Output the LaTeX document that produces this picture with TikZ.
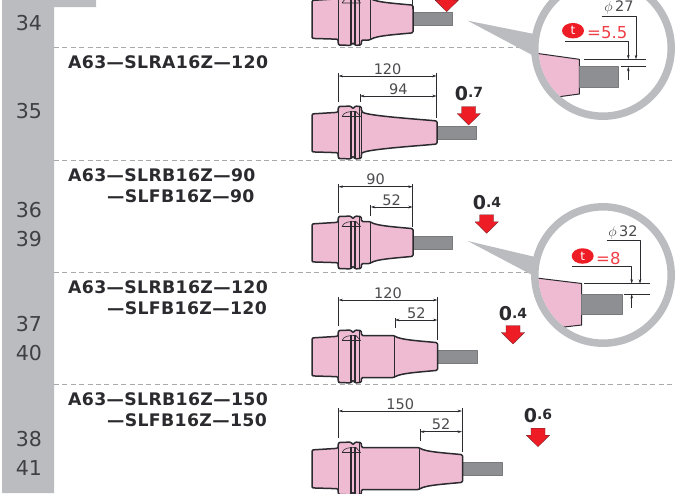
\documentclass[tikz,border=0pt]{standalone}
\usepackage{fontspec}
\setmainfont{DejaVu Sans}
\newfontfamily\labelfont{DejaVu Sans}
\newfontfamily\codefont[LetterSpace=2]{DejaVu Sans}
\usetikzlibrary{
  arrows.meta,
  positioning,
  calc,
  shapes.geometric
}
\definecolor{ink}{HTML}{2B2A2E}
\definecolor{sidebar}{HTML}{BBBCC0}
\definecolor{dashgray}{HTML}{A9AAAD}
\definecolor{holderpink}{HTML}{EFBBD3}
\definecolor{shank}{HTML}{8E8F92}
\definecolor{alertred}{HTML}{EE1C25}
\tikzset{
  >={Stealth[length=4.5pt,width=2.6pt]},
  every picture/.style={line join=round},
  rownum/.style={font=\labelfont\fontsize{20.5}{21}\selectfont, text=ink!90, inner sep=0pt},
  partcode/.style={font=\codefont\bfseries\fontsize{17.3}{18}\selectfont, text=ink, anchor=west, inner sep=0pt},
  dimtext/.style={font=\labelfont\fontsize{14.5}{15}\selectfont, text=ink!85, inner sep=0pt},
  runout/.style={font=\bfseries\fontsize{19}{19}\selectfont, text=ink, inner sep=0pt},
  redtext/.style={font=\labelfont\fontsize{16.5}{17}\selectfont, text=alertred!85!white, inner sep=0pt},
  rowline/.style={dash pattern=on 5pt off 3.4pt, draw=dashgray, line width=0.8pt},
  holderline/.style={draw=ink, line width=1.5pt},
  fineline/.style={draw=ink, line width=0.6pt},
  dimline/.style={<->, draw=ink, line width=0.55pt},
  extline/.style={draw=ink, line width=0.55pt},
  lens/.style={draw=sidebar, line width=7.5pt, fill=white},
  tmark/.style={ellipse, fill=alertred, text=white, minimum width=22pt, minimum height=15.5pt,
    inner sep=0pt, font=\labelfont\fontsize{12}{12}\selectfont}
}
% cy, shoulder x, taper end x, taper end half height
\newcommand{\holder}[4]{
  \draw[fill=shank, draw=shank!85!black, line width=0.5pt] (#3,#1-6.6) rectangle (#3+39.5,#1+6.6);
  \draw[holderline, fill=holderpink, rounded corners=1.2pt]
    (312,#1-18.6) -- (338,#1-20.2) -- (338.4,#1-26) -- (351,#1-26.4) -- (353,#1-23.5) -- (355,#1-26.4) -- (361.2,#1-26)
    -- (361.6,#1-21) -- (#2,#1-21)
    .. controls (#2+6,#1-16.5) and (#3-14,#1-#4-1.5) .. (#3,#1-#4)
    -- (#3,#1+#4)
    .. controls (#3-14,#1+#4+1.5) and (#2+6,#1+16.5) .. (#2,#1+21)
    -- (361.6,#1+21) -- (361.2,#1+26) -- (355,#1+26.4) -- (353,#1+23.5) -- (351,#1+26.4) -- (338.4,#1+26)
    -- (338,#1+20.2) -- (312,#1+19.4) -- cycle;
  \draw[fineline] (338.4,#1-26) -- (338.4,#1+26);
  \draw[fineline] (359.5,#1-26) -- (359.5,#1+26);
  \draw[fineline] (#2,#1-21) -- (#2,#1+21);
  \draw[draw=ink, line width=1.1pt] (351,#1-22) -- (351,#1+26);
  \draw[draw=ink, line width=1.1pt] (355,#1-22) -- (355,#1+26);
  \draw[fineline] (342,#1-16) .. controls (344,#1-21) and (350,#1-21) .. (356,#1-21) -- (360.5,#1-16) -- (342,#1-16);
}
% x, tip y
\newcommand{\redarrow}[2]{
  \fill[alertred, draw=ink!70!alertred, line width=0.3pt] (#1-7,#2-18.5) -- (#1+7,#2-18.5) -- (#1+7,#2-11.5) -- (#1+11.7,#2-11.5)
    -- (#1,#2) -- (#1-11.7,#2-11.5) -- (#1-7,#2-11.5) -- cycle;
}
\newcommand{\runoutval}[1]{0\raisebox{2.5pt}{\fontsize{14}{14}\selectfont.#1}}
\begin{document}
\begin{tikzpicture}[x=1pt, y=-1pt]
  \useasboundingbox (0,0) rectangle (683,493);
  \clip (0,0) rectangle (683,493);

  % side column
  \fill[sidebar] (2,0) -- (96,0) -- (96,7) -- (54,7) -- (54,493) -- (2,493) -- cycle;
  \node[rownum] (n34) at (29,23) {34};
  \node[rownum] (n35) at (29,111) {35};
  \node[rownum] (n36) at (29,210) {36};
  \node[rownum] (n39) at (29,239) {39};
  \node[rownum] (n37) at (29,324) {37};
  \node[rownum] (n40) at (29,353) {40};
  \node[rownum] (n38) at (29,439) {38};
  \node[rownum] (n41) at (29,468) {41};

  \foreach \y in {47.5,160,272,384}
    \draw[rowline] (54,\y) -- (675,\y);

  \node[partcode] (c35) at (68,62.5) {A63—SLRA16Z—120};
  \node[partcode] (c36) at (68,175) {A63—SLRB16Z—90};
  \node[partcode] (c39) at (107,196) {—SLFB16Z—90};
  \node[partcode] (c37) at (68,287) {A63—SLRB16Z—120};
  \node[partcode] (c40) at (107,308) {—SLFB16Z—120};
  \node[partcode] (c38) at (68,399) {A63—SLRB16Z—150};
  \node[partcode] (c41) at (107,420) {—SLFB16Z—150};

  \holder{19}{370}{413}{13.8}
  \holder{132.5}{361.6}{437}{11.5}
  \holder{242.5}{370}{413}{13.8}
  \holder{356.5}{394}{437.5}{13.8}
  \holder{468.5}{419}{462.5}{13.8}

  \redarrow{446.7}{11.7}
  \redarrow{468.7}{125}
  \redarrow{486.7}{233.3}
  \redarrow{513}{344}
  \redarrow{538}{446.7}

  \node[runout] (r35) at (469,93.5) {\runoutval{7}};
  \node[runout] (r36) at (487,203) {\runoutval{4}};
  \node[runout] (r37) at (513,314) {\runoutval{4}};
  \node[runout] (r38) at (538,415.5) {\runoutval{6}};

  % dimensions
  \draw[extline] (338.5,-2) -- (338.5,6) (412.5,-2) -- (412.5,9);

  \draw[extline] (338.5,73) -- (338.5,102) (436.7,73) -- (436.7,118) (360,94) -- (360,102);
  \draw[dimline] (338.5,76) -- node[dimtext, above=1.5pt] (d120a) {120} (436.7,76);
  \draw[dimline] (360,96) -- node[dimtext, above=1.5pt] (d94) {94} (436.7,96);

  \draw[extline] (338.5,184) -- (338.5,213) (412.7,184) -- (412.7,227) (370.7,205) -- (370.7,216);
  \draw[dimline] (338.5,186.7) -- node[dimtext, above=1.5pt] (d90) {90} (412.7,186.7);
  \draw[dimline] (370.7,207) -- node[dimtext, above=1.5pt] (d52a) {52} (412.7,207);

  \draw[extline] (338.5,297) -- (338.5,326) (437.5,297) -- (437.5,340) (395,318) -- (395,328);
  \draw[dimline] (338.5,300) -- node[dimtext, above=1.5pt] (d120b) {120} (437.5,300);
  \draw[dimline] (395,320) -- node[dimtext, above=1.5pt] (d52b) {52} (437.5,320);

  \draw[extline] (338.5,408) -- (338.5,438) (462,408) -- (462,452) (420,429) -- (420,441);
  \draw[dimline] (338.5,411) -- node[dimtext, above=1.5pt] (d150) {150} (462,411);
  \draw[dimline] (420,431.7) -- node[dimtext, above=1.5pt] (d52c) {52} (462,431.7);

  % first detail circle
  \fill[sidebar] (467.7,20.7) -- (534,34) -- (534,56) -- cycle;
  \draw[lens] (603,48) circle (68.2);
  \begin{scope}
    \clip (603,48) circle (64.5);
    \draw[draw=ink, line width=1pt, fill=holderpink] (520,51) -- (579.3,59.3) -- (579.3,94) -- (520,102) -- cycle;
  \end{scope}
  \fill[shank, draw=shank!85!black, line width=0.5pt] (579.3,66.7) rectangle (618.3,87.3);
  \draw[extline] (584,59.3) -- (645.7,59.3) (621,66.7) -- (645.7,66.7);
  \draw[->, extline] (601.7,16) -- (636,16) -- (636,59.3);
  \draw[->, extline] (565,41.7) -- (628.3,41.7) -- (628.3,59.3);
  \draw[->, extline] (628.3,80) -- (628.3,66.7);
  \node[dimtext] (phi27) at (619,7.5) {$\phi$\,27};
  \node[tmark] (t27) at (573,30.7) {t};
  \node[redtext, anchor=west] (val27) at (587,32.5) {=5.5};

  % second detail circle
  \fill[sidebar] (467.7,241) -- (534,256.7) -- (534,276) -- cycle;
  \draw[lens] (603,275) circle (68.2);
  \begin{scope}
    \clip (603,275) circle (64.5);
    \draw[draw=ink, line width=1pt, fill=holderpink] (520,276) -- (581.7,283.5) -- (581.7,325) -- (520,332) -- cycle;
  \end{scope}
  \fill[shank, draw=shank!85!black, line width=0.5pt] (581.7,294) rectangle (622.3,314.7);
  \draw[extline] (584,283.7) -- (650,283.7) (624,294) -- (650,294);
  \draw[->, extline] (606.7,240) -- (640,240) -- (640,283.7);
  \draw[->, extline] (571.7,266.7) -- (631.7,266.7) -- (631.7,283.7);
  \draw[->, extline] (631.7,308) -- (631.7,294);
  \node[dimtext] (phi32) at (623,232.7) {$\phi$\,32};
  \node[tmark] (t32) at (582.7,256) {t};
  \node[redtext, anchor=west] (val32) at (596,258) {=8};
\end{tikzpicture}
\end{document}
